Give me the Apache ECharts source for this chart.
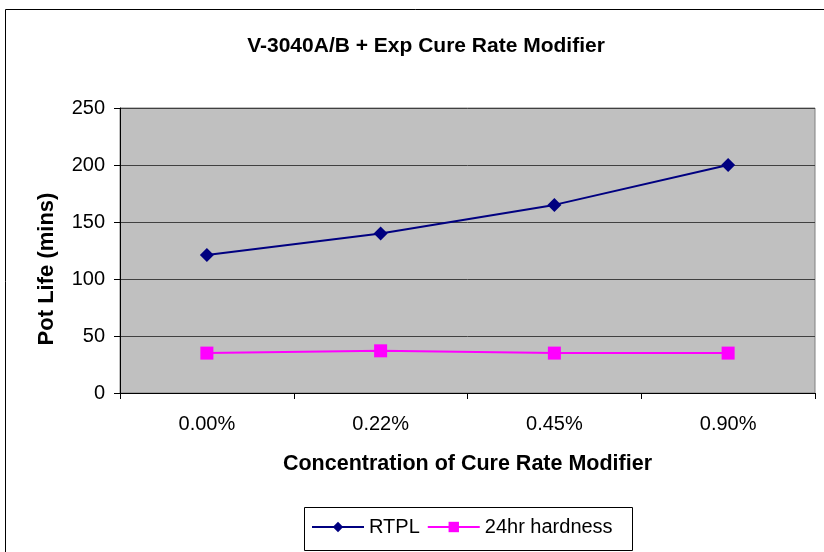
<!DOCTYPE html>
<html><head><meta charset="utf-8">
<script src="https://cdn.jsdelivr.net/npm/echarts@6/dist/echarts.min.js"></script>
<style>html,body{margin:0;padding:0;background:#fff}#c{width:824px;height:552px}</style>
</head><body><div id="c"></div>
<script>
const categories = ['0.00%', '0.22%', '0.45%', '0.90%'];
const rtpl = [121, 140, 165, 200];
const hardness = [35, 37, 35, 35];
const yTicks = [0, 50, 100, 150, 200, 250];

const chart = echarts.init(document.getElementById('c'), null, {renderer: 'canvas'});
const font = 'Liberation Sans, Arial, sans-serif';
chart.setOption({
  animation: false,
  backgroundColor: '#fff',
  graphic: [
    {type: 'rect', shape: {x: 5.5, y: 9.5, width: 840, height: 560}, style: {fill: 'none', stroke: '#000', lineWidth: 1}, silent: true},
    {type: 'rect', shape: {x: 304.5, y: 507.5, width: 328, height: 43}, style: {fill: 'none', stroke: '#000', lineWidth: 1}, silent: true},
    {type: 'text', x: 47, y: 269, rotation: Math.PI / 2,
      style: {text: 'Pot Life (mins)', font: 'bold 22px ' + font, fill: '#000', textAlign: 'center', textVerticalAlign: 'middle'}}
  ],
  title: {text: 'V-3040A/B + Exp Cure Rate Modifier', left: 421, top: 31, textAlign: 'center',
    textStyle: {fontFamily: font, fontSize: 21, fontWeight: 'bold', color: '#000'}},
  grid: {left: 120, right: 9, top: 108, bottom: 159, show: true, backgroundColor: '#C0C0C0', borderColor: '#808080', borderWidth: 1},
  legend: {top: 517, left: 311, itemWidth: 52, itemHeight: 13, itemGap: 7, padding: 0,
    textStyle: {fontFamily: font, fontSize: 20, color: '#000'},
    data: ['RTPL', '24hr hardness']},
  xAxis: {type: 'category', data: categories, boundaryGap: true,
    name: 'Concentration of Cure Rate Modifier', nameLocation: 'middle', nameGap: 60,
    nameTextStyle: {fontFamily: font, fontSize: 21.5, fontWeight: 'bold', color: '#000'},
    axisLine: {lineStyle: {color: '#000'}},
    axisTick: {show: true, length: 6, lineStyle: {color: '#000'}},
    axisLabel: {fontFamily: font, fontSize: 20, color: '#000', margin: 21}},
  yAxis: {type: 'value', min: 0, max: 250, interval: 50,
    axisLine: {show: true, lineStyle: {color: '#000'}},
    axisTick: {show: true, length: 6, lineStyle: {color: '#000'}},
    axisLabel: {fontFamily: font, fontSize: 20, color: '#000', margin: 15,
      formatter: v => yTicks.includes(v) ? String(v) : ''},
    splitLine: {show: true, lineStyle: {color: '#404040', width: 1}}},
  series: [
    {name: 'RTPL', type: 'line', data: rtpl, symbol: 'diamond', symbolSize: 14,
      lineStyle: {color: '#000080', width: 2}, itemStyle: {color: '#000080'}},
    {name: '24hr hardness', type: 'line', data: hardness, symbol: 'rect', symbolSize: 13,
      lineStyle: {color: '#FF00FF', width: 2}, itemStyle: {color: '#FF00FF'}}
  ]
});
</script></body></html>
